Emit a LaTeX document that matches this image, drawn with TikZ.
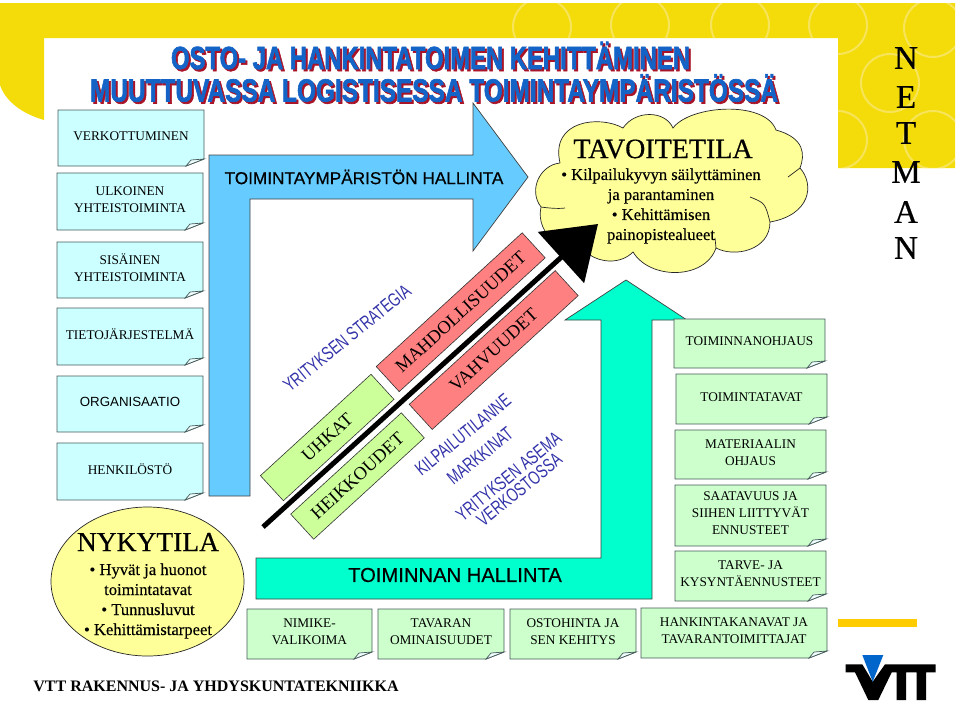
\documentclass[tikz,border=0pt]{standalone}
\usepackage{fontspec}
\setmainfont{Liberation Serif}
\setsansfont{Liberation Sans}
\newfontfamily\titlefont[FakeBold=2.2]{Liberation Sans}
\newfontfamily\headfont[FakeBold=0.5]{Liberation Serif}
\newfontfamily\bodyfont[FakeBold=0.3]{Liberation Serif}
\newfontfamily\arrowfont[FakeBold=0.4]{Liberation Sans}
\usetikzlibrary{arrows.meta,shapes.geometric,calc}
\definecolor{frameyellow}{RGB}{243,220,10}
\definecolor{ringyellow}{RGB}{248,228,90}
\definecolor{notecyan}{RGB}{204,255,255}
\definecolor{notegreen}{RGB}{204,255,204}
\definecolor{noteedge}{RGB}{70,90,90}
\definecolor{envblue}{RGB}{102,204,255}
\definecolor{opteal}{RGB}{0,255,204}
\definecolor{swotred}{RGB}{255,128,128}
\definecolor{swotgreen}{RGB}{204,255,153}
\definecolor{bubble}{RGB}{255,255,153}
\definecolor{stratblue}{RGB}{51,51,170}
\definecolor{titleblue}{RGB}{20,100,200}
\definecolor{titlered}{RGB}{170,20,40}
\definecolor{barorange}{RGB}{255,204,0}
\definecolor{logoblue}{RGB}{0,102,204}
\tikzset{
  notetext/.style={font=\fontsize{13.3}{17}\selectfont, align=center, inner sep=0pt},
  notefold/.style={draw=noteedge, fill=white!70!notecyan, line width=.7pt},
  swotbar/.style={draw=black!80, line width=.6pt, minimum height=34pt,
    font=\fontsize{18.3}{22}\selectfont, inner sep=0pt},
  stratlabel/.style={text=stratblue, rotate=39, inner sep=0pt, align=center,
    font=\sffamily\fontsize{19}{17}\selectfont},
  headtext/.style={font=\headfont\fontsize{28}{30}\selectfont, inner sep=0pt},
  bubbletext/.style={font=\bodyfont\fontsize{16.6}{20}\selectfont, inner sep=0pt, align=center},
  arrowtext/.style={inner sep=0pt},
  netletter/.style={font=\headfont\fontsize{33}{33}\selectfont, inner sep=0pt}
}
\newcommand{\squeezed}[1]{\scalebox{0.72}[1]{#1}}
\newcommand{\notebox}[7]{%
  \draw[fill=#2, draw=noteedge, line width=.9pt] (#3,#4) -- (#5,#4) -- (#5,#6-7)
    -- (#5-18,#6) -- (#3,#6) -- cycle;
  \draw[notefold] (#5-18,#6) -- (#5-13,#6-6) -- (#5,#6-7) -- cycle;
  \node[notetext] (#1) at ({(#3+#5)/2},{(#4+#6)/2-2}) {#7};
}
\begin{document}
\begin{tikzpicture}[x=1pt,y=-1pt]
   \useasboundingbox (0,0) rectangle (960,702);
   % yellow frame
   \fill[frameyellow] (0,3) -- (955,3) -- (955,168) -- (838,168) -- (838,38) -- (44,38) -- (44,120)
     .. controls (20,113) and (5,100) .. (0,85) -- cycle;
   \begin{scope}
     \clip (500,3) rectangle (955,38) (838,38) rectangle (955,168);
     \foreach \x/\y in {542/27,640/25,740/25,838/25,933/28,890/83,838/140,933/140}
       \draw[ringyellow, line width=2pt] (\x,\y) circle (29);
   \end{scope}
   % title
   \foreach \dx/\col in {2/titlered,0/titleblue} {
     \node[text=\col, inner sep=0pt] at ({430.5+\dx},{55.5+\dx})
       {\resizebox{519pt}{\height}{\titlefont\bfseries\fontsize{32}{32}\selectfont OSTO- JA HANKINTATOIMEN KEHITTÄMINEN}};
     \node[text=\col, inner sep=0pt] at ({434+\dx},{88+\dx})
       {\resizebox{688pt}{\height}{\titlefont\bfseries\fontsize{32}{32}\selectfont MUUTTUVASSA LOGISTISESSA TOIMINTAYMPÄRISTÖSSÄ}};
   }
   % the two big arrows
   \draw[fill=envblue, draw=black!75, line width=.7pt] (209,496) -- (209,155) -- (473,155) -- (473,103)
     -- (528,177) -- (473,251) -- (473,199) -- (250,199) -- (250,496) -- cycle;
   \node[arrowtext, font=\arrowfont\fontsize{17.2}{20}\selectfont] (envtext) at (364,177) {TOIMINTAYMPÄRISTÖN HALLINTA};
   \draw[fill=opteal, draw=black!75, line width=.7pt] (256,558) -- (601,558) -- (601,320) -- (565,320)
     -- (626,280) -- (687,320) -- (652,320) -- (652,599) -- (256,599) -- cycle;
   \node[arrowtext, font=\arrowfont\fontsize{20.2}{24}\selectfont] (optext) at (455,575) {TOIMINNAN HALLINTA};
   % note boxes
   \notebox{verkko}{notecyan}{58}{110}{204}{166}{VERKOTTUMINEN}
   \notebox{ulkoinen}{notecyan}{57}{173}{203}{230}{ULKOINEN\\YHTEISTOIMINTA}
   \notebox{sisainen}{notecyan}{57}{242}{203}{298}{SISÄINEN\\YHTEISTOIMINTA}
   \notebox{tieto}{notecyan}{57}{308}{203}{365}{TIETOJÄRJESTELMÄ}
   \notebox{organ}{notecyan}{57}{376}{203}{432}{\sffamily ORGANISAATIO}
   \notebox{henkilo}{notecyan}{57}{443}{203}{500}{HENKILÖSTÖ}
   \notebox{ohjaus}{notegreen}{674}{319}{825}{368}{TOIMINNANOHJAUS}
   \notebox{tavat}{notegreen}{676}{374}{827}{424}{TOIMINTATAVAT}
   \notebox{materia}{notegreen}{675}{430}{826}{479}{MATERIAALIN\\OHJAUS}
   \notebox{saatavuus}{notegreen}{675}{485}{826}{546}{SAATAVUUS JA\\SIIHEN LIITTYVÄT\\ENNUSTEET}
   \notebox{tarve}{notegreen}{675}{551}{826}{601}{TARVE- JA\\KYSYNTÄENNUSTEET}
   \notebox{kanavat}{notegreen}{641}{608}{827}{658}{HANKINTAKANAVAT JA\\TAVARANTOIMITTAJAT}
   \notebox{nimike}{notegreen}{247}{609}{372}{659}{NIMIKE-\\VALIKOIMA}
   \notebox{tavara}{notegreen}{378}{609}{504}{659}{TAVARAN\\OMINAISUUDET}
   \notebox{hinta}{notegreen}{510}{609}{636}{659}{OSTOHINTA JA\\SEN KEHITYS}
   % swot bars
   \node[swotbar, fill=swotred, minimum width=198pt, rotate=42.5] (mahd) at (460.7,312.2) {MAHDOLLISUUDET};
   \node[swotbar, fill=swotred, minimum width=198pt, rotate=42.5] (vahv) at (493.7,350) {VAHVUUDET};
   \node[swotbar, fill=swotgreen, minimum width=150pt, rotate=42.5] (uhkat) at (327.2,437.5) {UHKAT};
   \node[swotbar, fill=swotgreen, minimum width=150pt, rotate=42.5] (heikko) at (357.5,476) {HEIKKOUDET};
   % cloud
   \draw[fill=bubble, draw=black!85, line width=.7pt] (560,163)
     .. controls (550,120) and (600,115) .. (623,128)
     .. controls (635,110) and (665,110) .. (673,128)
     .. controls (690,105) and (765,100) .. (776,130)
     .. controls (805,138) and (805,155) .. (800,168)
     .. controls (815,185) and (810,215) .. (770,222)
     .. controls (770,250) and (735,258) .. (716,248)
     .. controls (705,280) and (650,280) .. (633,252)
     .. controls (620,265) and (600,262) .. (590,255)
     .. controls (565,255) and (535,235) .. (541,207)
     .. controls (528,190) and (540,165) .. (560,163);
   \draw[black!85, line width=.7pt] (541,207) .. controls (548,208) and (558,209) .. (565,208);
   \draw[black!85, line width=.7pt] (788,177) -- (800,168);
   \draw[black!85, line width=.7pt] (750,197) .. controls (765,203) .. (770,222);
   \draw[black!85, line width=.7pt] (716,248) -- (715,238);
   \node[headtext] (goal) at (663,149) {TAVOITETILA};
   \node[bubbletext] (goaltext) at (661,206) {• Kilpailukyvyn säilyttäminen\\ja parantaminen\\• Kehittämisen\\painopistealueet};
   % main arrow
   \coordinate (trendstart) at (263,527);
   \coordinate (trendtip) at (598,224);
   \draw[line width=5pt, -{Triangle[length=50pt,width=68pt]}] (trendstart) -- (trendtip);
   % strategy labels
   \node[stratlabel] (strategia) at (347,338) {\squeezed{YRITYKSEN STRATEGIA}};
   \node[stratlabel] (kilpailu) at (463,435) {\squeezed{KILPAILUTILANNE}};
   \node[stratlabel] (markkinat) at (480,456) {\squeezed{MARKKINAT}};
   \node[stratlabel] (asema) at (514,483) {\squeezed{YRITYKSEN ASEMA}\\\squeezed{VERKOSTOSSA}};
   % present state
   \node[ellipse, draw=black!85, fill=bubble, line width=.7pt, minimum width=193pt, minimum height=149pt, inner sep=0pt] (nyky) at (147.5,581.5) {};
   \node[headtext, font=\headfont\fontsize{27.5}{30}\selectfont] (nykyhead) at (148,542) {NYKYTILA};
   \node[bubbletext] (nykytext) at (148,601) {• Hyvät ja huonot\\toimintatavat\\• Tunnusluvut\\• Kehittämistarpeet};
   % NETMAN
   \foreach \l/\y/\nm in {N/58/neta,E/97/netb,T/133/netc,M/172/netd,A/212/nete,N/248/netf}
     \node[netletter] (\nm) at (906,\y) {\l};
   % footer and logo
   \node[font=\bfseries\fontsize{16}{18}\selectfont, inner sep=0pt] (footer) at (216,686) {VTT RAKENNUS- JA YHDYSKUNTATEKNIIKKA};
   \fill[barorange] (838,619) rectangle (917,627);
   \fill[black] (845.7,664.3) -- (862.3,664.3) -- (872.7,681.7) -- (885,664.3) -- (935.7,664.3) -- (935.7,672.3)
     -- (926,672.3) -- (926,700) -- (916.7,700) -- (916.7,672.3) -- (906,672.3) -- (906,700) -- (896.7,700)
     -- (896.7,672.3) -- (891.7,672.3) -- (878.3,700) -- (868.3,700) -- (855,672.3) -- (845.7,672.3) -- cycle;
   \fill[logoblue] (862.3,655) -- (883.3,655) -- (872.7,681.7) -- cycle;
\end{tikzpicture}
\end{document}
